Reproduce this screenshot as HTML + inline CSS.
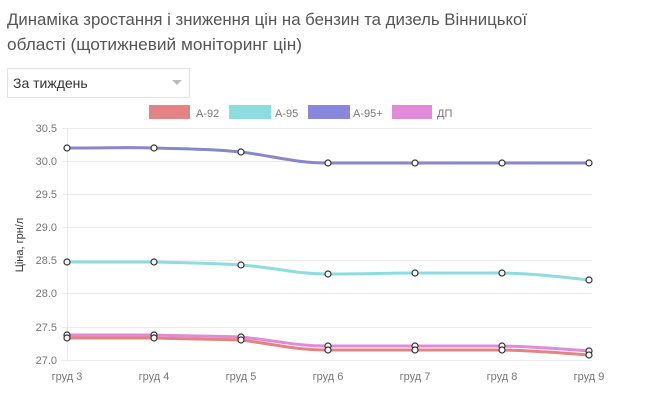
<!DOCTYPE html>
<html><head><meta charset="utf-8"><style>
body{margin:0;background:#fff;width:665px;height:400px;overflow:hidden;font-family:"Liberation Sans",sans-serif}
</style></head><body>
<svg width="665" height="400" xmlns="http://www.w3.org/2000/svg" font-family="Liberation Sans, sans-serif">
<text x="7" y="25" font-size="17" fill="#555" textLength="520" lengthAdjust="spacingAndGlyphs">Динаміка зростання і зниження цін на бензин та дизель Вінницької</text>
<text x="7" y="50" font-size="17" fill="#555" textLength="295" lengthAdjust="spacingAndGlyphs">області (щотижневий моніторинг цін)</text>
<rect x="7.5" y="68.5" width="182" height="29" fill="#fff" stroke="#e3e3e3"/>
<text x="13" y="88" font-size="14" fill="#333">За тиждень</text>
<path d="M172 80 l5 5 l5 -5z" fill="#bbb"/>
<rect x="149" y="105" width="41" height="14" fill="#e38383"/><text x="196" y="117" font-size="11" fill="#777">А-92</text>
<rect x="229" y="105" width="42" height="14" fill="#8ddde0"/><text x="275" y="117" font-size="11" fill="#777">А-95</text>
<rect x="308" y="105" width="42" height="14" fill="#8787dc"/><text x="353" y="117" font-size="11" fill="#777">А-95+</text>
<rect x="392" y="105" width="40" height="14" fill="#e08ad8"/><text x="437" y="117" font-size="11" fill="#777">ДП</text>
<g stroke="#ececec" stroke-width="1">
<line x1="62" y1="128.5" x2="592" y2="128.5"/><line x1="62" y1="161.5" x2="592" y2="161.5"/><line x1="62" y1="194.5" x2="592" y2="194.5"/><line x1="62" y1="227.5" x2="592" y2="227.5"/><line x1="62" y1="260.5" x2="592" y2="260.5"/><line x1="62" y1="293.5" x2="592" y2="293.5"/><line x1="62" y1="327.5" x2="592" y2="327.5"/><line x1="62" y1="360.5" x2="592" y2="360.5"/>
<line x1="67.5" y1="128" x2="67.5" y2="362"/>
</g>
<g font-size="11" fill="#777" text-anchor="end">
<text x="57" y="132">30.5</text><text x="57" y="165">30.0</text><text x="57" y="198">29.5</text><text x="57" y="231">29.0</text><text x="57" y="264">28.5</text><text x="57" y="297">28.0</text><text x="57" y="331">27.5</text><text x="57" y="364">27.0</text>
</g>
<text transform="translate(23,245) rotate(-90)" font-size="11" fill="#333" text-anchor="middle">Ціна, грн/л</text>
<g font-size="11" fill="#777" text-anchor="middle">
<text x="67" y="380">груд 3</text><text x="154" y="380">груд 4</text><text x="241" y="380">груд 5</text><text x="328" y="380">груд 6</text><text x="415" y="380">груд 7</text><text x="502" y="380">груд 8</text><text x="589" y="380">груд 9</text>
</g>
<g fill="none" stroke-width="3">
<path stroke="#8787cc" d="M67 148 C110 148,130 147,154 148 C190 149,210 149,241 152 C280 157,295 163,328 163 C370 163,380 163,415 163 L589 163"/>
<path stroke="#8ddde0" d="M67 262 C110 262,130 262,154 262 C190 263,210 263,241 265 C280 268,295 274,328 274 C370 274,380 273,415 273 C450 273,470 273,502 273 C540 274,560 277,589 280"/>
<path stroke="#e08ad8" d="M67 335 C110 335,130 335,154 335 C190 336,210 336,241 337 C280 341,295 346,328 346 C370 346,380 346,415 346 C450 346,470 346,502 346 C540 347,560 349,589 351"/>
<path stroke="#e38383" d="M67 338 C110 338,130 338,154 338 C190 339,210 339,241 340 C280 345,295 350,328 350 C370 350,380 350,415 350 C450 350,470 350,502 350 C540 351,560 353,589 355"/>
</g>
<g fill="#fff" stroke="#333" stroke-width="1.2">
<circle cx="67" cy="148" r="3"/><circle cx="154" cy="148" r="3"/><circle cx="241" cy="152" r="3"/><circle cx="328" cy="163" r="3"/><circle cx="415" cy="163" r="3"/><circle cx="502" cy="163" r="3"/><circle cx="589" cy="163" r="3"/>
<circle cx="67" cy="262" r="3"/><circle cx="154" cy="262" r="3"/><circle cx="241" cy="265" r="3"/><circle cx="328" cy="274" r="3"/><circle cx="415" cy="273" r="3"/><circle cx="502" cy="273" r="3"/><circle cx="589" cy="280" r="3"/>
<circle cx="67" cy="335" r="3"/><circle cx="154" cy="335" r="3"/><circle cx="241" cy="337" r="3"/><circle cx="328" cy="346" r="3"/><circle cx="415" cy="346" r="3"/><circle cx="502" cy="346" r="3"/><circle cx="589" cy="351" r="3"/>
<circle cx="67" cy="338" r="3"/><circle cx="154" cy="338" r="3"/><circle cx="241" cy="340" r="3"/><circle cx="328" cy="350" r="3"/><circle cx="415" cy="350" r="3"/><circle cx="502" cy="350" r="3"/><circle cx="589" cy="355" r="3"/>
</g>
</svg>
</body></html>
